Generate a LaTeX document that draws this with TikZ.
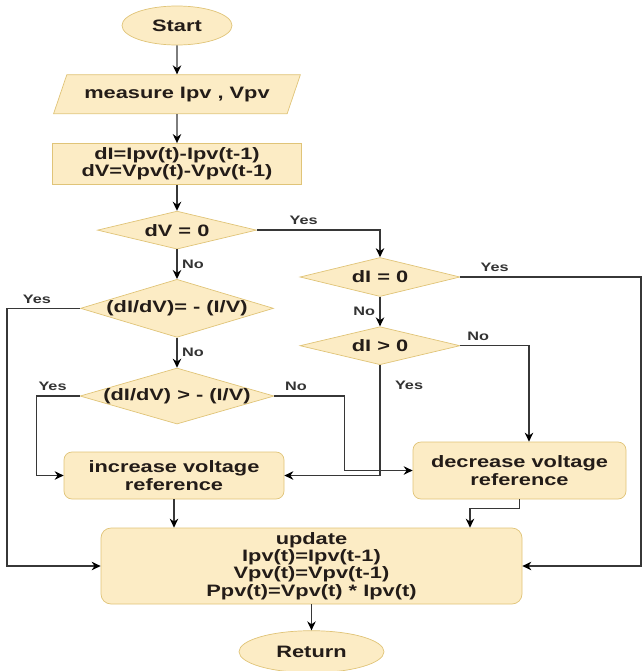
\documentclass[tikz,border=0pt]{standalone}
\usepackage{fontspec}
\setmainfont{Liberation Sans}[FakeStretch=1.32]
\usepackage{tikz}
\usetikzlibrary{arrows.meta,positioning,shapes.geometric,calc}

\definecolor{boxfill}{RGB}{252,236,197}
\definecolor{boxline}{RGB}{224,196,120}
\definecolor{linegray}{RGB}{55,55,55}
\definecolor{ink}{RGB}{35,28,24}

\begin{document}
\begin{tikzpicture}[
  font=\bfseries\fontsize{9.4}{9.9}\selectfont, text=ink,
  terminal/.style={draw=boxline, fill=boxfill, ellipse, inner sep=0pt},
  io/.style={draw=boxline, fill=boxfill, trapezium, trapezium left angle=53, trapezium right angle=127, trapezium stretches=true, inner sep=0pt},
  state/.style={draw=boxline, fill=boxfill, align=center, inner sep=0pt},
  decision/.style={draw=boxline, fill=boxfill, diamond, aspect=3.4, inner xsep=-1mm, inner ysep=0pt},
  lbl/.style={font=\bfseries\fontsize{7}{8}\selectfont, text=black!80, inner sep=2.5pt},
  arrow/.style={-{Stealth[length=1.8mm, width=1.7mm, color=black]}, draw=linegray, line width=0.75pt}
]
  \useasboundingbox (0,0) rectangle (12.84,-13.42);

  \node[terminal, minimum width=2.2cm, minimum height=0.78cm] (start) at (3.54,-0.51) {Start};
  \node[io, minimum width=4.94cm, minimum height=0.78cm, below=0.58cm of start] (meas) {measure Ipv , Vpv};
  \node[state, minimum width=4.98cm, minimum height=0.82cm, below=0.58cm of meas] (diff) {dI=Ipv(t)-Ipv(t-1)\\dV=Vpv(t)-Vpv(t-1)};
  \node[decision, minimum width=3.18cm, minimum height=0.76cm, below=0.52cm of diff] (dv) {dV = 0};
  \node[decision, minimum width=3.86cm, minimum height=1.16cm, below=0.59cm of dv] (slope) {(dI/dV)= - (I/V)};
  \node[decision, minimum width=3.88cm, minimum height=1.12cm, below=0.6cm of slope] (gt) {(dI/dV) > - (I/V)};
  \node[decision, minimum width=3.2cm, minimum height=0.78cm] (di0) at (7.60,-5.54) {dI = 0};
  \node[decision, minimum width=3.2cm, minimum height=0.76cm, below=0.59cm of di0] (dip) {dI > 0};
  \node[state, rounded corners=1.6mm, minimum width=4.40cm, minimum height=0.94cm] (inc) at (3.48,-9.51) {increase voltage\\reference};
  \node[state, rounded corners=1.6mm, minimum width=4.26cm, minimum height=1.14cm] (dec) at (10.39,-9.41) {decrease voltage\\reference};
  \node[state, rounded corners=2mm, minimum width=8.42cm, minimum height=1.52cm] (upd) at (6.23,-11.32) {update\\Ipv(t)=Ipv(t-1)\\Vpv(t)=Vpv(t-1)\\Ppv(t)=Vpv(t) * Ipv(t)};
  \node[terminal, minimum width=2.9cm, minimum height=0.84cm, below=0.52cm of upd] (ret) {Return};

  \coordinate (railR) at (12.82,0);
  \coordinate (railL) at (0.14,0);

  \draw[arrow] (start) -- (meas);
  \draw[arrow] (meas) -- (diff);
  \draw[arrow] (diff) -- (dv);
  \draw[arrow] (dv) -- node[lbl, right]{No} (slope);
  \draw[arrow] (slope) -- node[lbl, right]{No} (gt);
  \draw[arrow] (dv.east) -| node[lbl, above, pos=0.19]{Yes} (di0.north);
  \draw[arrow] (di0) -- node[lbl, left]{No} (dip);
  \draw[arrow] (di0.east) -- node[lbl, above, pos=0.19]{Yes} (di0.east -| railR) |- (upd.east);
  \draw[arrow] (dip.east) -| node[lbl, above, pos=0.13]{No} ([xshift=1.9mm]dec.north);
  \draw[arrow] (dip.south) |- node[lbl, right, pos=0.09, xshift=2mm]{Yes} (inc.east);
  \draw[arrow] (slope.west) -- node[lbl, above, pos=0.59]{Yes} (slope.west -| railL) |- (upd.west);
  \draw[arrow] (gt.west) -- node[lbl, above, pos=0.63]{Yes} ++(-0.86,0) |- (inc.west);
  \draw[arrow] (gt.east) -- node[lbl, above, pos=0.31]{No} ++(1.4,0) |- (dec.west);
  \draw[arrow] (inc.south) -- (inc.south |- upd.north);
  \draw[arrow] (dec.south) -- ++(0,-0.18) -| ([xshift=3.17cm]upd.north);
  \draw[arrow] (upd) -- (ret);
\end{tikzpicture}
\end{document}
